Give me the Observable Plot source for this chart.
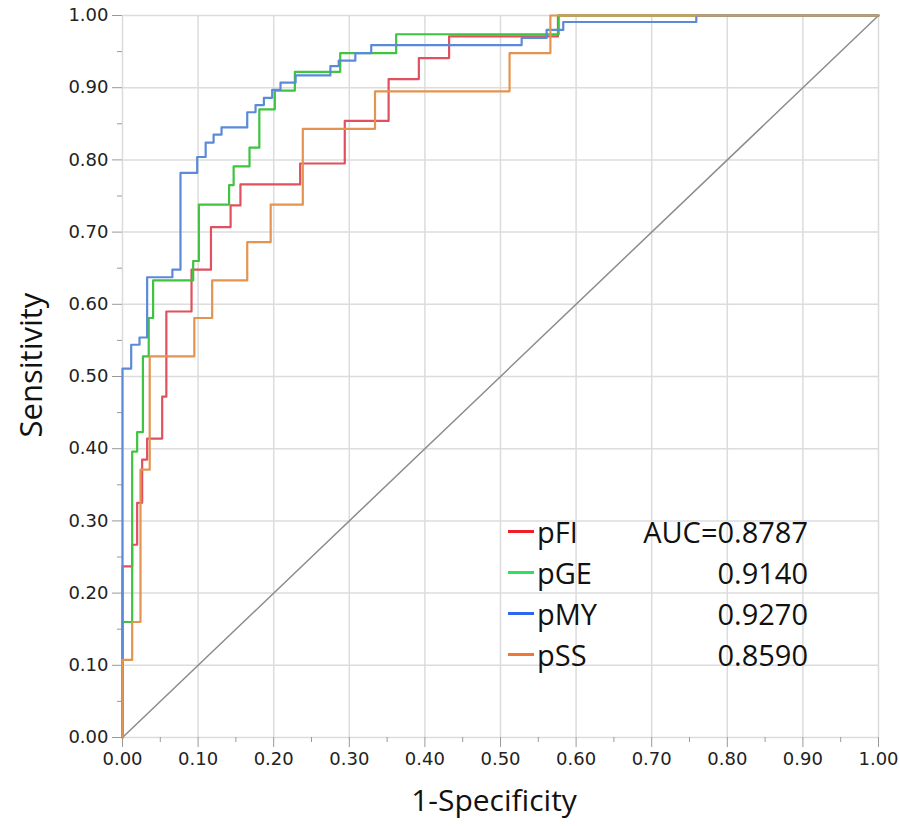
<!DOCTYPE html>
<html>
<head>
<meta charset="utf-8">
<script src="https://cdn.jsdelivr.net/npm/d3@7"></script>
<script src="https://cdn.jsdelivr.net/npm/@observablehq/plot@0.6"></script>
<style>
  html, body { margin: 0; padding: 0; background: #fff; }
  #wrap { position: relative; width: 900px; height: 826px; overflow: hidden; }
  .axlabel { position: absolute; font-family: "Open Sans", sans-serif; font-size: 30px; line-height: 1; color: #111; white-space: nowrap; }
  #legend { position: absolute; left: 508px; top: 511px; width: 300px; font-family: "Open Sans", sans-serif; font-size: 29px; color: #111; }
  .row { display: flex; align-items: center; height: 41px; }
  .sw { width: 26px; height: 2.5px; margin-right: 3px; }
  .nm { flex: 0 0 auto; }
  .val { flex: 1 1 auto; text-align: right; }
</style>
</head>
<body>
<div id="wrap"></div>
<script>
// ---- data ----
const seriesNames = ["pFI", "pGE", "pMY", "pSS"];
const aucLabels = ["AUC=0.8787", "0.9140", "0.9270", "0.8590"];

// step points: [1-specificity, sensitivity] reached after each vertical jump
const pFI_fpr = [0, 0, 0.0128, 0.0194, 0.026, 0.0326, 0.0525, 0.058, 0.0913, 0.117, 0.143, 0.156, 0.235, 0.294, 0.352, 0.392, 0.432, 0.576, 1];
const pFI_tpr = [0, 0.237, 0.267, 0.325, 0.385, 0.414, 0.472, 0.590, 0.648, 0.707, 0.737, 0.766, 0.795, 0.854, 0.912, 0.941, 0.971, 1.0, 1.0];

const pGE_fpr = [0, 0, 0.0128, 0.0194, 0.027, 0.0347, 0.0405, 0.0935, 0.101, 0.141, 0.147, 0.168, 0.181, 0.2015, 0.228, 0.288, 0.362, 0.577, 1];
const pGE_tpr = [0, 0.160, 0.396, 0.423, 0.528, 0.581, 0.633, 0.660, 0.738, 0.765, 0.791, 0.817, 0.870, 0.896, 0.922, 0.948, 0.974, 1.0, 1.0];

const pMY_fpr = [0, 0, 0.0115, 0.0225, 0.0326, 0.066, 0.0767, 0.0988, 0.110, 0.1205, 0.131, 0.165, 0.176, 0.187, 0.198, 0.209, 0.229, 0.275, 0.286, 0.308, 0.329, 0.528, 0.561, 0.583, 0.759, 1];
const pMY_tpr = [0, 0.511, 0.544, 0.554, 0.6375, 0.648, 0.782, 0.804, 0.824, 0.835, 0.845, 0.866, 0.876, 0.886, 0.897, 0.907, 0.917, 0.930, 0.9375, 0.948, 0.959, 0.969, 0.980, 0.991, 1.0, 1.0];

const pSS_fpr = [0, 0, 0.0128, 0.0238, 0.036, 0.095, 0.1186, 0.165, 0.196, 0.2385, 0.334, 0.512, 0.566, 1];
const pSS_tpr = [0, 0.1075, 0.160, 0.371, 0.528, 0.581, 0.633, 0.686, 0.738, 0.843, 0.895, 0.948, 1.0, 1.0];

const majorTicks = [0, 0.1, 0.2, 0.3, 0.4, 0.5, 0.6, 0.7, 0.8, 0.9, 1.0];
const minorTicks = [0.05, 0.15, 0.25, 0.35, 0.45, 0.55, 0.65, 0.75, 0.85, 0.95];
const diagonal = [0, 1];

// ---- build ----
const lineColors = {pFI: "#e0505f", pGE: "#3ec43e", pMY: "#5a8ad8", pSS: "#e39450"};
const swatchColors = {pFI: "#f01e28", pGE: "#2ee05a", pMY: "#2f66f0", pSS: "#f07830"};

function toRows(name, xs, ys) { return xs.map((x, i) => ({series: name, x, y: ys[i]})); }
const rows = {
  pFI: toRows("pFI", pFI_fpr, pFI_tpr),
  pGE: toRows("pGE", pGE_fpr, pGE_tpr),
  pMY: toRows("pMY", pMY_fpr, pMY_tpr),
  pSS: toRows("pSS", pSS_fpr, pSS_tpr)
};
const fmt = d3.format(".2f");

const chart = Plot.plot({
  width: 900,
  height: 826,
  marginLeft: 122,
  marginRight: 22,
  marginTop: 15,
  marginBottom: 89,
  style: {fontFamily: "DejaVu Sans, sans-serif", background: "#fff"},
  x: {domain: [0, 1]},
  y: {domain: [0, 1]},
  marks: [
    Plot.gridX(majorTicks, {stroke: "#dcdcdc", strokeOpacity: 1, strokeWidth: 1.5}),
    Plot.gridY(majorTicks, {stroke: "#dcdcdc", strokeOpacity: 1, strokeWidth: 1.5}),
    Plot.axisX(minorTicks, {tickSize: 5, tickFormat: () => "", label: null, stroke: "#999"}),
    Plot.axisY(minorTicks, {tickSize: 5, tickFormat: () => "", label: null, stroke: "#999"}),
    Plot.axisX(majorTicks, {tickSize: 10, tickPadding: 5, tickFormat: fmt, label: null, stroke: "#999", fill: "#222", fontSize: 18}),
    Plot.axisY(majorTicks, {tickSize: 10, tickPadding: 4, tickFormat: fmt, label: null, stroke: "#999", fill: "#222", fontSize: 18}),
    Plot.line(diagonal.map(v => ({x: v, y: v})), {x: "x", y: "y", stroke: "#8c8c8c", strokeWidth: 1.5}),
    ...["pFI", "pGE", "pMY", "pSS"].map(k =>
      Plot.line(rows[k], {x: "x", y: "y", curve: "step-after", stroke: lineColors[k], strokeWidth: 2.2})
    )
  ]
});

const wrap = document.getElementById("wrap");
wrap.appendChild(chart);

const xl = document.createElement("div");
xl.className = "axlabel";
xl.textContent = "1-Specificity";
xl.style.left = "494px";
xl.style.top = "800px";
xl.style.transform = "translate(-50%, -50%)";
wrap.appendChild(xl);

const yl = document.createElement("div");
yl.className = "axlabel";
yl.textContent = "Sensitivity";
yl.style.fontSize = "31px";
yl.style.left = "30px";
yl.style.top = "365px";
yl.style.transform = "translate(-50%, -50%) rotate(-90deg)";
wrap.appendChild(yl);

const lg = document.createElement("div");
lg.id = "legend";
seriesNames.forEach((n, i) => {
  const r = document.createElement("div");
  r.className = "row";
  const sw = document.createElement("div");
  sw.className = "sw";
  sw.style.background = swatchColors[n];
  const nm = document.createElement("div");
  nm.className = "nm";
  nm.textContent = n;
  const v = document.createElement("div");
  v.className = "val";
  v.textContent = aucLabels[i];
  r.append(sw, nm, v);
  lg.appendChild(r);
});
wrap.appendChild(lg);
</script>
</body>
</html>
